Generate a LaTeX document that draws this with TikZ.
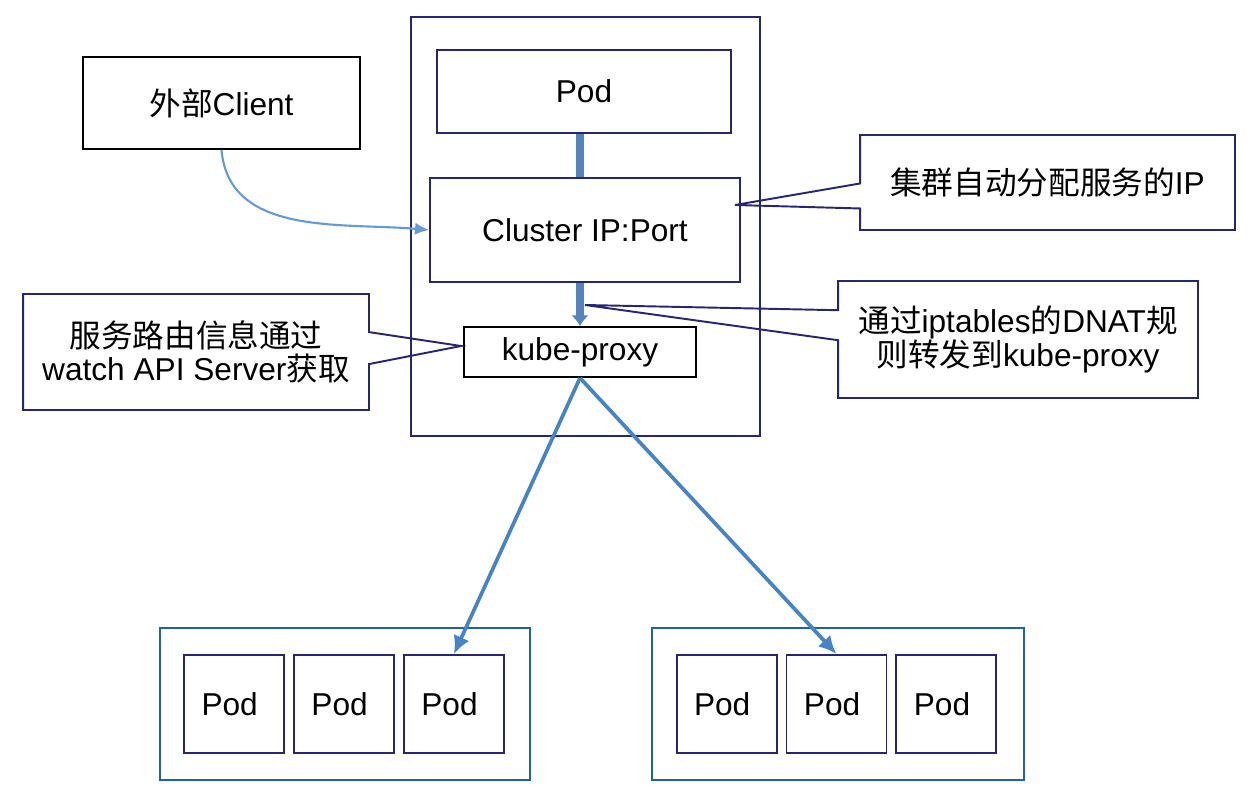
\documentclass[tikz,border=0pt]{standalone}
\usepackage{fontspec}
\setmainfont{Liberation Sans}
\newfontfamily\cjk{Noto Sans CJK SC}
\usetikzlibrary{matrix,positioning,arrows,arrows.meta,shapes.callouts}
\definecolor{navy}{RGB}{38,38,115}
\definecolor{steel}{RGB}{32,100,158}
\definecolor{flowblue}{RGB}{70,132,200}
\definecolor{pipeblue}{RGB}{82,132,190}
\definecolor{curveblue}{RGB}{100,155,215}

\begin{document}
\begin{tikzpicture}[x=0.02cm, y=-0.02cm, font=\fontsize{18}{19}\selectfont,
    box/.style={draw=navy, line width=1.1pt, inner sep=0pt, align=center},
    podbox/.style={box, minimum width=2cm, minimum height=1.96cm},
    pool/.style={draw=steel, line width=1.1pt, minimum width=7.4cm, minimum height=3.04cm},
    note/.style={rectangle callout, draw=navy, line width=1.1pt, align=center, callout pointer width=0.5cm},
    flow/.style={draw=flowblue, line width=2.1pt, -{Latex[length=0.36cm,width=0.34cm]}},
    pipe/.style={draw=pipeblue, line width=4.5pt}]
    \useasboundingbox (0,0) rectangle (1254,800);

    \node[draw=navy, line width=1.1pt, minimum width=6.98cm, minimum height=8.38cm] (Node) at (585.5,226.5) {};
    \node[box, minimum width=5.88cm, minimum height=1.66cm] (Pod) at (584,91.5) {Pod};
    \node[box, minimum width=6.2cm, minimum height=2.08cm] (Cluster) at (585,230) {Cluster IP:Port};
    \node[box, draw=black, minimum width=4.64cm, minimum height=1cm] (Proxy) at (580,352) {kube-proxy};
    \node[box, draw=black, minimum width=5.54cm, minimum height=1.84cm] (Client) at (221.5,103) {{\cjk 外部}Client};

    \draw[pipe] (Proxy.north |- Pod.south) -- (Proxy.north |- Cluster.north);
    \draw[pipe, -{Latex[length=6pt,width=10pt]}] (Proxy.north |- Cluster.south) -- (Proxy.north);
    \draw[draw=curveblue, line width=1.2pt, -{Latex[length=8pt,width=7pt]}] (Client.south) [out=-85, in=175] to (Cluster.west);

	\node[pool] (PoolA) at (345,704) {};
	\matrix (A)[matrix of nodes, nodes={podbox}, column sep=0.16cm] at (344,704)
	{Pod & Pod & Pod \\};

	\node[pool, minimum width=7.44cm] (PoolB) at (838,704) {};
	\matrix (B)[matrix of nodes, nodes={podbox}, column sep=0.16cm] at (836.5,704)
	{Pod & Pod & Pod \\};

    \draw[flow] (Proxy.south) -- (A-1-3.north);
    \draw[flow] (Proxy.south) -- (B-1-2.north);

    \coordinate (ipTip) at (735,205);
    \coordinate (dnatTip) at (585,305);
    \coordinate (watchTip) at (461,346);
    \node[note, minimum width=7.5cm, minimum height=1.9cm, callout absolute pointer={(ipTip)}] (IpNote) at (1047.5,182.5) {{\cjk 集群自动分配服务的}IP};
    \node[note, callout pointer width=0.6cm, minimum width=7.2cm, minimum height=2.34cm, callout absolute pointer={(dnatTip)}] (DnatNote) at (1018,339.5) {{\cjk 通过}iptables{\cjk 的}DNAT{\cjk 规}\\{\cjk 则转发到}kube-proxy};
    \node[note, callout pointer width=0.64cm, minimum width=6.92cm, minimum height=2.32cm, callout absolute pointer={(watchTip)}] (WatchNote) at (196,352) {{\cjk 服务路由信息通过}\\watch API Server{\cjk 获取}};
\end{tikzpicture}
\end{document}
